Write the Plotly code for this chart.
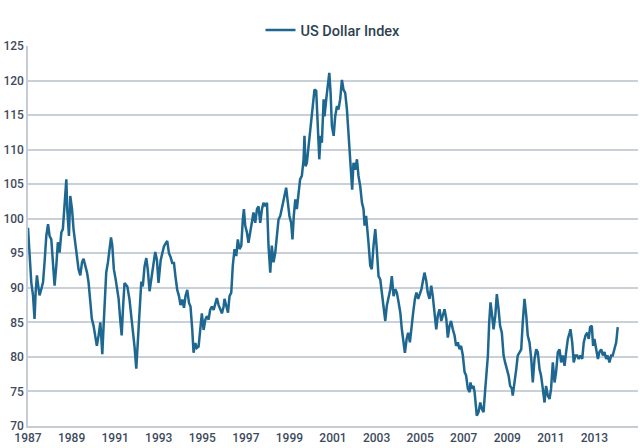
import plotly.graph_objects as go

# decimal years and US Dollar Index values
years = [
    1987.00, 1987.07, 1987.15, 1987.23, 1987.30, 1987.35, 1987.41, 1987.46, 1987.53, 1987.61,
    1987.69, 1987.76, 1987.84, 1987.92, 1987.99, 1988.07, 1988.14, 1988.22, 1988.30, 1988.37,
    1988.45, 1988.53, 1988.60, 1988.68, 1988.76, 1988.80, 1988.88, 1988.94, 1989.02, 1989.09,
    1989.17, 1989.25, 1989.32, 1989.40, 1989.48, 1989.55, 1989.63, 1989.71, 1989.78, 1989.86,
    1989.93, 1990.01, 1990.09, 1990.16, 1990.24, 1990.32, 1990.36, 1990.41, 1990.47, 1990.53,
    1990.59, 1990.67, 1990.75, 1990.81, 1990.87, 1990.94, 1991.02, 1991.08, 1991.16, 1991.23,
    1991.30, 1991.36,
    1991.43, 1991.56, 1991.66, 1991.74, 1991.82, 1991.89, 1991.97, 1992.05, 1992.12, 1992.20,
    1992.27, 1992.35, 1992.43, 1992.50, 1992.58, 1992.66, 1992.73, 1992.84, 1992.92, 1992.99,
    1993.09, 1993.16, 1993.24, 1993.31, 1993.39, 1993.47, 1993.54, 1993.62, 1993.70, 1993.77,
    1993.85, 1993.93, 1994.00, 1994.08, 1994.16, 1994.23, 1994.31, 1994.39, 1994.46, 1994.54,
    1994.60, 1994.68, 1994.75, 1994.83, 1994.91, 1994.98, 1995.06, 1995.14, 1995.21, 1995.29,
    1995.36, 1995.44, 1995.52, 1995.59, 1995.67, 1995.75, 1995.82, 1995.90, 1995.98,
    1996.02, 1996.10, 1996.18, 1996.25, 1996.33, 1996.40, 1996.48, 1996.56, 1996.63, 1996.71,
    1996.79, 1996.86, 1996.91, 1996.97, 1997.05, 1997.12, 1997.20, 1997.28, 1997.35, 1997.43,
    1997.51, 1997.58, 1997.66, 1997.74, 1997.81, 1997.89, 1997.97, 1998.04, 1998.12, 1998.19,
    1998.27, 1998.35, 1998.42, 1998.50, 1998.58, 1998.65, 1998.73, 1998.81, 1998.85, 1998.93,
    1999.00, 1999.08, 1999.14, 1999.20, 1999.27, 1999.34, 1999.42, 1999.49, 1999.57, 1999.65,
    1999.69, 1999.74, 1999.80, 1999.88, 1999.95, 2000.03, 2000.08, 2000.15, 2000.23, 2000.31,
    2000.37, 2000.43, 2000.49, 2000.57,
    2000.61, 2000.69, 2000.77, 2000.83, 2000.89, 2000.95, 2001.03, 2001.10, 2001.18, 2001.25,
    2001.33, 2001.41, 2001.48, 2001.56, 2001.64, 2001.71, 2001.79, 2001.84, 2001.88, 2001.94,
    2002.02, 2002.10, 2002.17, 2002.25, 2002.33, 2002.40, 2002.45, 2002.52, 2002.57, 2002.63,
    2002.71, 2002.78, 2002.86, 2002.94, 2003.01, 2003.09, 2003.17, 2003.24, 2003.32, 2003.40,
    2003.47, 2003.55, 2003.63, 2003.70, 2003.78, 2003.86, 2003.93, 2004.01, 2004.09, 2004.16,
    2004.24, 2004.30, 2004.38, 2004.45, 2004.53, 2004.60, 2004.68, 2004.76, 2004.83, 2004.91,
    2004.99, 2005.06, 2005.14,
    2005.20, 2005.28, 2005.35, 2005.43, 2005.51, 2005.58, 2005.66, 2005.74, 2005.81, 2005.89,
    2005.97, 2006.04, 2006.12, 2006.20, 2006.27, 2006.35, 2006.42, 2006.50, 2006.58, 2006.65,
    2006.73, 2006.81, 2006.88, 2006.96, 2007.04, 2007.11, 2007.19, 2007.27, 2007.31, 2007.37,
    2007.45, 2007.50, 2007.54, 2007.60, 2007.68, 2007.76, 2007.83, 2007.91, 2007.99, 2008.06,
    2008.11, 2008.17, 2008.23, 2008.29, 2008.37, 2008.45, 2008.52, 2008.60, 2008.67, 2008.75,
    2008.83, 2008.90, 2008.98, 2009.06, 2009.13, 2009.21, 2009.25, 2009.33, 2009.41, 2009.48,
    2009.56, 2009.64, 2009.71,
    2009.79, 2009.87, 2009.94, 2010.02, 2010.10, 2010.17, 2010.25, 2010.33, 2010.40, 2010.48,
    2010.55, 2010.63, 2010.71, 2010.78, 2010.86, 2010.94, 2011.01, 2011.09, 2011.17, 2011.24,
    2011.32, 2011.40, 2011.47, 2011.55, 2011.63, 2011.70, 2011.78, 2011.86, 2011.90, 2011.98,
    2012.05, 2012.13, 2012.21, 2012.28, 2012.36, 2012.44, 2012.51, 2012.59, 2012.67, 2012.74,
    2012.80, 2012.88, 2012.94, 2013.00, 2013.08, 2013.16, 2013.23, 2013.31, 2013.39, 2013.46,
    2013.54, 2013.61, 2013.69, 2013.77, 2013.84, 2013.92, 2014.00, 2014.07,
]

dollar_index = [
    98.7, 95.1, 90.8, 88.9, 85.5, 89.3, 91.8, 90.5, 88.9, 89.8,
    90.8, 93.7, 97.5, 99.2, 97.5, 97.0, 93.2, 90.3, 93.2, 96.6,
    95.1, 98.0, 98.5, 102.8, 105.7, 101.4, 97.5, 103.3, 101.4, 98.5,
    96.6, 94.6, 92.7, 91.8, 93.7, 94.2, 93.2, 92.2, 90.8, 87.9,
    85.5, 84.5, 82.6, 81.6, 83.1, 85.0, 83.1, 80.4, 84.5, 88.9,
    92.2, 93.7, 95.6, 97.3, 96.1, 92.7, 91.3, 89.8, 88.4, 85.5,
    83.1, 87.0,
    90.7, 90.2, 88.3, 85.9, 83.9, 81.5, 78.3, 82.5, 87.3, 90.9,
    90.2, 93.1, 94.3, 92.6, 89.5, 91.2, 92.6, 95.2, 94.0, 90.7,
    94.0, 95.2, 96.0, 96.4, 96.8, 95.0, 94.5, 93.6, 93.6, 91.6,
    89.7, 88.8, 87.5, 88.3, 87.1, 88.8, 89.7, 87.8, 87.3, 83.9,
    80.6, 82.0, 81.3, 81.5, 83.9, 86.3, 83.9, 85.4, 85.9, 85.4,
    86.8, 87.3, 86.8, 87.8, 88.5, 87.5, 86.8, 86.3, 87.3,
    88.4, 87.4, 86.4, 88.8, 89.3, 93.2, 95.6, 94.6, 97.0, 95.6,
    96.1, 99.9, 101.4, 99.0, 98.0, 96.5, 98.0, 99.0, 100.9, 99.4,
    101.4, 101.8, 99.4, 101.4, 102.3, 101.8, 102.3, 96.1, 92.2, 96.1,
    93.7, 95.1, 97.5, 99.9, 100.4, 101.4, 102.3, 103.8, 104.5, 102.3,
    100.4, 99.4, 97.0, 100.4, 102.8, 101.4, 103.8, 105.7, 106.2, 108.6,
    112.0, 107.6, 108.1, 110.5, 113.4, 115.8, 116.8, 118.7, 118.5, 113.4,
    108.6, 112.0, 111.0, 117.3,
    114.8, 117.3, 120.1, 121.1, 118.2, 113.4, 112.0, 114.8, 116.3, 115.8,
    117.3, 120.1, 118.7, 118.2, 115.8, 112.4, 109.5, 106.2, 104.2, 108.1,
    107.1, 108.6, 106.2, 104.7, 102.3, 101.4, 99.0, 100.4, 98.0, 96.5,
    93.2, 92.7, 96.1, 98.5, 95.6, 91.7, 91.2, 89.3, 87.4, 85.2,
    87.4, 88.4, 89.8, 91.7, 88.8, 89.8, 89.3, 87.9, 86.4, 84.0,
    82.1, 80.6, 82.6, 83.5, 82.1, 84.5, 86.4, 88.4, 89.3, 88.4,
    89.3, 89.8, 91.2,
    92.2, 91.0, 89.3, 88.4, 90.3, 88.8, 86.4, 84.0, 86.0, 86.9,
    85.2, 86.0, 86.9, 85.5, 82.8, 84.5, 85.2, 84.0, 83.1, 81.6,
    82.1, 81.1, 81.6, 80.2, 77.8, 77.3, 75.4, 74.9, 76.3, 75.4,
    75.8, 74.9, 73.4, 71.5, 72.0, 73.4, 72.5, 72.0, 75.4, 78.2,
    80.2, 85.0, 87.9, 86.4, 84.0, 86.0, 89.1, 86.9, 84.5, 83.5,
    80.2, 79.2, 78.2, 77.3, 75.8, 75.4, 74.4, 76.8, 78.2, 80.2,
    80.7, 81.1, 85.0,
    88.4, 86.0, 83.1, 82.1, 79.7, 76.3, 79.7, 81.1, 80.7, 78.2,
    77.3, 75.4, 73.4, 75.8, 74.4, 73.9, 75.4, 79.2, 76.3, 77.8,
    80.7, 81.1, 79.2, 80.2, 78.7, 80.7, 82.6, 83.5, 84.0, 82.1,
    79.2, 80.2, 80.2, 79.7, 80.2, 79.7, 82.1, 83.1, 83.5, 82.6,
    84.3, 84.5, 81.6, 82.6, 81.1, 79.7, 80.7, 81.1, 80.2, 80.7,
    79.7, 80.2, 79.2, 80.2, 80.2, 81.1, 82.1, 84.3,
]

x_ticks = [1987, 1989, 1991, 1993, 1995, 1997, 1999, 2001, 2003, 2005, 2007, 2009, 2011, 2013]
y_ticks = [70, 75, 80, 85, 90, 95, 100, 105, 110, 115, 120, 125]

tick_font = dict(family="Roboto", size=12, color="#3d4b5c", weight=500)

fig = go.Figure()
fig.add_trace(go.Scatter(
    x=years, y=dollar_index, mode="lines", name="US Dollar Index",
    line=dict(color="#1d6790", width=2.5),
))

fig.update_layout(
    width=640, height=448,
    margin=dict(l=28, r=2, t=46, b=22),
    paper_bgcolor="white", plot_bgcolor="white",
    showlegend=True,
    legend=dict(
        orientation="h", x=0.5, xanchor="center", y=1.0, yanchor="bottom",
        font=dict(family="Roboto", size=14.5, color="#2f3f52", weight=500),
        bgcolor="rgba(0,0,0,0)",
    ),
    xaxis=dict(
        range=[1987, 2015], tickvals=x_ticks, ticktext=[str(t) for t in x_ticks],
        showgrid=False, zeroline=False, showline=True, linecolor="#c5ccd3", linewidth=1.5,
        tickfont=tick_font, ticks="", automargin=False,
    ),
    yaxis=dict(
        range=[70, 125], tickvals=y_ticks, showgrid=True, gridcolor="#c9d0d7", gridwidth=1.5,
        zeroline=False, showline=True, linecolor="#c5ccd3", linewidth=1.5,
        tickfont=tick_font, ticks="", automargin=False,
    ),
)

fig.write_html(
    "out.html",
    config={"displayModeBar": False},
    post_script="document.body.style.margin='0';document.body.style.overflow='hidden';",
)
